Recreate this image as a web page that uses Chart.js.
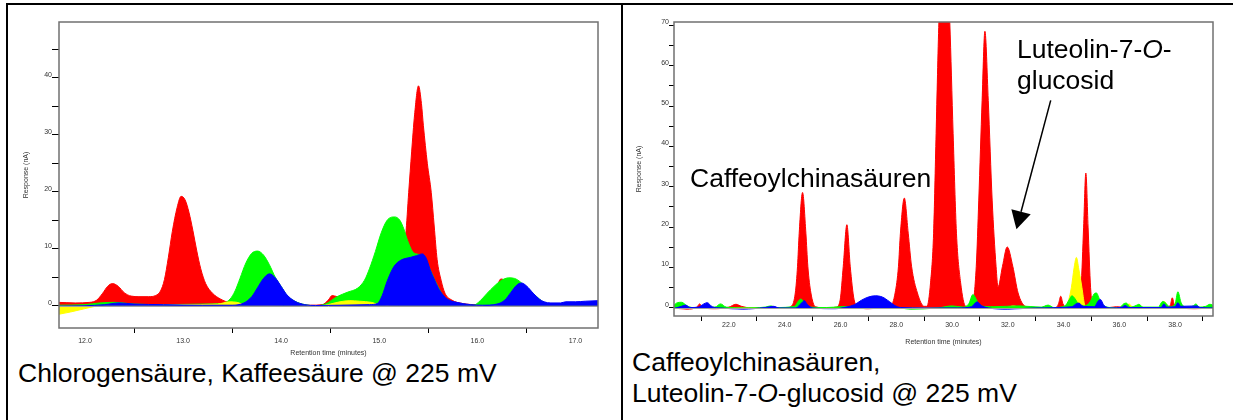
<!DOCTYPE html>
<html>
<head>
<meta charset="utf-8">
<script src="https://cdn.jsdelivr.net/npm/chart.js@4/dist/chart.umd.min.js"></script>
<style>
  body { margin: 0; background: #fff; }
  #page { position: relative; width: 1233px; height: 420px; overflow: hidden; font-family: "Liberation Sans", Arial, sans-serif; }
  .rule { position: absolute; background: #000; }
  canvas { position: absolute; }
  .txt { position: absolute; font-size: 26.5px; line-height: 30.6px; color: #000; white-space: nowrap; }
</style>
</head>
<body>
<div id="page">
  <div class="rule" style="left:6px;top:3px;width:1227px;height:2px"></div>
  <div class="rule" style="left:6px;top:3px;width:2px;height:417px"></div>
  <div class="rule" style="left:621px;top:3px;width:2px;height:417px"></div>

  <canvas id="leftChart" width="612" height="353" style="left:8px;top:5px"></canvas>
  <canvas id="rightChart" width="610" height="341" style="left:623px;top:5px"></canvas>

  <div class="txt" style="left:18px;top:358px">Chlorogensäure, Kaffeesäure @ 225 mV</div>
  <div class="txt" style="left:632px;top:347px">Caffeoylchinasäuren,<br>Luteolin-7-<i>O</i>-glucosid @ 225 mV</div>
  <div class="txt" style="left:690px;top:163px">Caffeoylchinasäuren</div>
  <div class="txt" style="left:1017px;top:34px;line-height:31px">Luteolin-7-<i>O</i>-<br>glucosid</div>
</div>

<script>
// ---- left chromatogram (11.7 - 17.2 min) ----
const leftRedT = [11.73, 11.9, 12.05, 12.12, 12.18, 12.23, 12.28, 12.34, 12.40, 12.47, 12.55, 12.65, 12.72, 12.77, 12.81, 12.85, 12.89, 12.94, 12.98, 13.02, 13.06, 13.10, 13.14, 13.18, 13.23, 13.30, 13.38, 13.48, 13.6, 13.9, 14.3, 14.42, 14.48, 14.52, 14.57, 14.65, 14.8, 14.95, 15.1, 15.17, 15.22, 15.27, 15.30, 15.33, 15.36, 15.40, 15.43, 15.45, 15.49, 15.53, 15.56, 15.59, 15.63, 15.67, 15.74, 15.85, 16.0, 16.12, 16.2, 16.24, 16.35, 16.45, 16.6, 17.23];
const leftRedY = [0.6, 0.5, 0.6, 1.0, 2.2, 3.4, 3.9, 3.4, 2.3, 1.7, 1.6, 1.6, 1.8, 2.6, 4.6, 8.5, 13.0, 17.3, 19.2, 18.6, 16.4, 13.2, 9.6, 6.5, 3.9, 2.2, 1.2, 0.5, 0.3, 0.2, 0.1, 0.2, 1.0, 1.8, 1.6, 1.4, 1.8, 2.2, 2.6, 3.5, 7.0, 12.5, 19.9, 27.0, 33.5, 38.6, 35.5, 31.6, 25.0, 19.9, 14.0, 8.1, 4.5, 2.2, 1.0, 0.4, 0.2, 1.5, 3.5, 4.7, 3.5, 1.5, 0.3, 0.3];

const leftGreenT = [11.73, 12.0, 12.15, 12.3, 12.5, 12.8, 13.2, 13.4, 13.48, 13.53, 13.58, 13.64, 13.70, 13.76, 13.82, 13.88, 13.94, 14.0, 14.06, 14.14, 14.24, 14.35, 14.45, 14.57, 14.68, 14.78, 14.85, 14.90, 14.96, 15.02, 15.08, 15.155, 15.21, 15.25, 15.29, 15.35, 15.42, 15.50, 15.58, 15.66, 15.74, 15.85, 15.96, 16.03, 16.10, 16.17, 16.24, 16.32, 16.38, 16.43, 16.48, 16.58, 16.68, 16.8, 17.23];
const leftGreenY = [0.1, 0.2, 0.5, 0.6, 0.3, 0.2, 0.3, 0.4, 1.2, 2.6, 4.8, 7.5, 9.2, 9.6, 8.9, 7.2, 5.0, 3.4, 1.8, 0.8, 0.2, 0.0, 0.3, 1.6, 2.4, 3.1, 4.5, 6.5, 9.5, 12.8, 15.0, 15.6, 15.0, 13.5, 11.4, 9.3, 8.9, 7.0, 4.0, 1.6, 0.7, 0.3, 0.1, 0.9, 2.2, 3.4, 4.4, 4.9, 4.8, 4.3, 3.5, 2.0, 0.6, 0.3, 0.2];

const leftBlueT = [11.73, 12.0, 12.2, 12.35, 12.5, 12.8, 13.2, 13.5, 13.62, 13.70, 13.76, 13.82, 13.88, 13.94, 14.0, 14.06, 14.14, 14.24, 14.35, 14.6, 14.9, 14.98, 15.03, 15.08, 15.15, 15.22, 15.32, 15.38, 15.44, 15.48, 15.52, 15.56, 15.60, 15.65, 15.70, 15.79, 15.93, 16.05, 16.2, 16.28, 16.34, 16.40, 16.45, 16.50, 16.57, 16.63, 16.68, 16.75, 16.85, 16.9, 17.0, 17.1, 17.23];
const leftBlueY = [-0.1, 0.0, 0.2, 0.5, 0.3, 0.2, 0.1, 0.1, 0.5, 1.6, 3.2, 4.8, 5.6, 4.9, 3.4, 1.9, 0.8, 0.2, 0.05, 0.1, 0.2, 0.4, 1.8, 4.3, 6.9, 8.0, 8.5, 8.8, 9.1, 8.3, 6.3, 4.7, 3.2, 1.9, 1.1, 0.6, 0.2, 0.1, 0.3, 1.0, 2.3, 3.6, 4.0, 3.5, 2.2, 1.2, 0.7, 0.5, 0.5, 0.7, 0.7, 0.8, 0.9];

const leftYellowT = [11.73, 11.85, 11.95, 12.05, 12.15, 12.4, 13.0, 13.35, 13.48, 13.55, 13.65, 14.4, 14.5, 14.6, 14.7, 14.8, 14.92, 15.0, 15.2, 17.23];
const leftYellowY = [-1.5, -1.1, -0.7, -0.3, 0.0, 0.1, 0.2, 0.3, 0.7, 0.6, 0.1, 0.0, 0.3, 0.7, 0.9, 0.8, 0.6, 0.2, 0.0, 0.0];

const leftXTicks = [12.0, 12.5, 13.0, 13.5, 14.0, 14.5, 15.0, 15.5, 16.0, 16.5, 17.0];
const leftYTicks = [0, 5, 10, 15, 20, 25, 30, 35, 40, 45];

// ---- right chromatogram (20 - 39.4 min) ----
const rightRedT = [20.0, 20.5, 20.85, 20.95, 21.05, 21.5, 22.0, 22.25, 22.45, 22.8, 23.5, 24.1, 24.25, 24.38, 24.46, 24.52, 24.64, 24.76, 24.83, 24.94, 25.1, 25.5, 25.85, 25.99, 26.10, 26.23, 26.35, 26.49, 26.65, 27.0, 27.5, 27.8, 27.96, 28.08, 28.15, 28.29, 28.43, 28.55, 28.76, 29.0, 29.10, 29.23, 29.34, 29.43, 29.53, 29.72, 29.92, 30.04, 30.16, 30.31, 30.49, 30.65, 30.72, 30.87, 30.96, 31.08, 31.18, 31.30, 31.44, 31.58, 31.65, 31.81, 31.98, 32.18, 32.37, 32.63, 33.0, 33.7, 33.82, 33.9, 33.98, 34.1, 34.55, 34.63, 34.72, 34.80, 34.88, 34.97, 35.05, 35.5, 35.9, 36.5, 37.4, 37.55, 37.65, 37.82, 37.9, 37.98, 38.2, 38.7, 39.4];
const rightRedY = [0.0, -0.3, 0.2, 1.0, 0.1, -0.2, 0.2, 0.9, 0.4, 0.0, 0.0, 0.1, 0.5, 3.7, 10.3, 18.5, 28.6, 18.5, 10.3, 3.7, 0.3, 0.0, 0.2, 2.0, 10.3, 20.6, 10.3, 2.0, 0.2, -0.2, 0.0, 0.4, 3.7, 10.3, 18.5, 27.2, 18.5, 10.3, 3.7, 0.4, 0.4, 6.2, 18.5, 43.2, 70.8, 100, 70.8, 43.2, 18.5, 6.2, 0.4, 0.3, 0.4, 10.3, 26.7, 51.4, 68.5, 51.4, 26.7, 10.3, 5.2, 10.3, 15.1, 10.3, 3.7, 0.4, 0.0, 0.0, 1.0, 2.9, 1.0, 0.2, 0.3, 5.0, 20.0, 33.4, 20.0, 5.0, 0.5, 0.0, 0.3, 0.0, 0.0, 0.8, 0.3, 0.5, 2.5, 0.6, 0.0, -0.2, 0.0];

const rightYellowT = [20.0, 31.9, 32.2, 32.5, 33.9, 34.1, 34.28, 34.38, 34.46, 34.55, 34.66, 34.75, 34.85, 36.2, 36.35, 36.5, 37.45, 37.6, 37.75, 37.85, 39.4];
const rightYellowY = [0.0, 0.0, 0.5, 0.0, 0.0, 0.5, 5.0, 10.0, 12.5, 9.5, 5.0, 1.0, 0.1, 0.0, 1.0, 0.0, 0.0, 1.6, 0.3, 0.0, 0.0];

const rightGreenT = [20.0, 20.15, 20.3, 20.5, 20.7, 21.5, 21.7, 21.9, 22.5, 23.3, 23.5, 23.7, 24.35, 24.5, 24.58, 24.7, 24.9, 25.5, 26.0, 26.8, 27.2, 28.0, 28.5, 29.5, 30.0, 30.4, 30.6, 30.75, 30.88, 31.0, 31.5, 32.4, 33.2, 33.45, 33.65, 34.05, 34.2, 34.3, 34.42, 34.55, 34.75, 34.95, 35.1, 35.18, 35.3, 35.5, 36.0, 36.15, 36.25, 36.4, 36.6, 36.7, 36.85, 37.4, 37.55, 37.65, 37.8, 38.0, 38.1, 38.22, 38.4, 38.65, 38.75, 38.85, 39.1, 39.25, 39.4];
const rightGreenY = [0.5, 1.3, 1.4, 0.5, 0.1, 0.2, 1.0, 0.2, 0.0, 0.2, 0.5, 0.1, 0.4, 1.8, 2.2, 1.4, 0.2, 0.1, 0.3, 0.5, 0.8, 0.2, -0.3, 0.0, 0.5, 0.2, 1.0, 3.3, 2.0, 0.5, 0.3, 0.5, 0.2, 0.7, 0.1, 0.5, 2.0, 3.0, 2.2, 0.8, 0.5, 1.5, 3.5, 3.7, 2.0, 0.3, 0.0, 1.0, 1.2, 0.2, 0.6, 0.9, 0.2, 0.2, 1.6, 1.3, 0.3, 1.0, 4.0, 1.2, 0.2, 0.5, 1.0, 0.2, 0.4, 0.9, 0.5];

const rightBlueT = [20.0, 20.3, 20.45, 20.6, 20.9, 21.1, 21.22, 21.4, 21.7, 22.5, 23.3, 23.6, 23.8, 24.4, 24.6, 24.7, 24.82, 25.0, 25.8, 26.2, 26.5, 26.75, 27.0, 27.25, 27.5, 27.75, 27.95, 28.15, 29.0, 30.2, 30.7, 30.9, 31.05, 31.3, 32.0, 33.0, 34.3, 34.45, 34.55, 34.7, 35.1, 35.25, 35.32, 35.45, 35.7, 36.1, 36.2, 36.35, 37.5, 37.6, 37.7, 38.0, 38.1, 38.2, 38.8, 38.9, 39.4];
const rightBlueY = [-0.2, 0.4, 0.7, 0.1, 0.2, 1.0, 1.3, 0.3, 0.0, -0.3, 0.1, 0.4, 0.0, 0.0, 1.2, 1.8, 0.8, 0.0, -0.2, 0.2, 0.8, 1.9, 2.7, 3.0, 2.7, 1.6, 0.6, 0.1, 0.0, 0.0, 0.3, 1.5, 0.6, 0.0, -0.3, 0.0, 0.3, 1.0, 1.2, 0.4, 0.3, 1.8, 2.1, 0.6, 0.0, 0.2, 0.6, 0.1, 0.1, 1.0, 0.2, 0.3, 1.3, 0.4, 0.5, 0.1, 0.0];

const rightXTicks = [21, 22, 23, 24, 25, 26, 27, 28, 29, 30, 31, 32, 33, 34, 35, 36, 37, 38, 39];
const rightYTicks = [0, 5, 10, 15, 20, 25, 30, 35, 40, 45, 50, 55, 60, 65, 70];

// arrow pointing at the luteolin peak (minutes, nA)
const arrowFrom = [33.54, 51.4];
const arrowTo = [32.31, 19.5];

const FONT = '"Liberation Sans", Arial, sans-serif';

const toPoints = (ts, ys) => ts.map((t, i) => ({ x: t, y: ys[i] }));

const trace = (label, color, ts, ys) => ({
    label,
    data: toPoints(ts, ys),
    borderColor: color,
    backgroundColor: color,
    borderWidth: 1,
    fill: "origin",
    pointRadius: 0,
    cubicInterpolationMode: "monotone",
});

// plot frame + zero line, like the detector software draws it
const framePlugin = {
    id: "frame",
    afterDatasetsDraw(chart) {
        const { ctx, chartArea: a, scales } = chart;
        const y0 = Math.round(scales.y.getPixelForValue(0)) + 0.5;
        ctx.save();
        ctx.strokeStyle = "#a0a0a0";
        ctx.lineWidth = 1;
        ctx.beginPath();
        ctx.moveTo(a.left, y0);
        ctx.lineTo(a.right, y0);
        ctx.stroke();
        ctx.strokeStyle = "#707070";
        ctx.lineWidth = 1.5;
        ctx.strokeRect(a.left, a.top, a.right - a.left, a.bottom - a.top);
        ctx.restore();
    },
};

const arrowPlugin = {
    id: "arrow",
    afterDraw(chart) {
        const { ctx, scales } = chart;
        const x1 = scales.x.getPixelForValue(arrowFrom[0]);
        const y1 = scales.y.getPixelForValue(arrowFrom[1]);
        const x2 = scales.x.getPixelForValue(arrowTo[0]);
        const y2 = scales.y.getPixelForValue(arrowTo[1]);
        const ang = Math.atan2(y2 - y1, x2 - x1);
        const headLen = 18, headW = 10;
        const bx = x2 - headLen * Math.cos(ang);
        const by = y2 - headLen * Math.sin(ang);
        ctx.save();
        ctx.strokeStyle = "#000";
        ctx.fillStyle = "#000";
        ctx.lineWidth = 1.5;
        ctx.beginPath();
        ctx.moveTo(x1, y1);
        ctx.lineTo(bx, by);
        ctx.stroke();
        ctx.beginPath();
        ctx.moveTo(x2, y2);
        ctx.lineTo(bx + headW * Math.sin(ang), by - headW * Math.cos(ang));
        ctx.lineTo(bx - headW * Math.sin(ang), by + headW * Math.cos(ang));
        ctx.closePath();
        ctx.fill();
        ctx.restore();
    },
};

const buildOptions = (cfg) => ({
    responsive: false,
    animation: false,
    events: [],
    layout: { padding: { left: 0, top: 17, right: cfg.padRight, bottom: 0 } },
    plugins: { legend: { display: false }, tooltip: { enabled: false } },
    scales: {
        x: {
            type: "linear",
            min: cfg.xMin,
            max: cfg.xMax,
            afterFit: (s) => { s.height = 30; },
            afterBuildTicks: (s) => { s.ticks = cfg.xTicks.map((v) => ({ value: v })); },
            border: { display: false },
            grid: {
                drawOnChartArea: false,
                tickLength: 5,
                // only the unlabelled (minor) positions get a tick mark
                color: (c) => (c.tick && cfg.xLabel(c.tick.value) === "" ? "#000" : "rgba(0,0,0,0)"),
            },
            ticks: {
                autoSkip: false,
                maxRotation: 0,
                padding: cfg.xTickPad,
                color: "#333",
                font: { family: FONT, size: 7 },
                callback: cfg.xLabel,
            },
            title: {
                display: true,
                text: "Retention time (minutes)",
                color: "#333",
                font: { family: FONT, size: 7 },
                padding: { top: 0, bottom: cfg.xTitlePad },
            },
        },
        y: {
            min: cfg.yMin,
            max: cfg.yMax,
            afterFit: (s) => { s.width = 51; },
            afterBuildTicks: (s) => { s.ticks = cfg.yTicks.map((v) => ({ value: v })); },
            border: { display: false },
            grid: { drawOnChartArea: false, color: "#000", tickLength: cfg.yTickLen },
            ticks: {
                autoSkip: false,
                padding: 0,
                labelOffset: -3,
                color: "#333",
                font: { family: FONT, size: 7 },
                callback: (v) => (v % 10 === 0 ? String(v) : ""),
            },
            title: {
                display: true,
                text: "Response (nA)",
                color: "#333",
                font: { family: FONT, size: 7 },
                padding: { top: cfg.yTitlePad, bottom: 0 },
            },
        },
    },
});

// first dataset is drawn on top
new Chart(document.getElementById("leftChart"), {
    type: "line",
    data: {
        datasets: [
            trace("blue", "#0000ff", leftBlueT, leftBlueY),
            trace("yellow", "#ffff00", leftYellowT, leftYellowY),
            trace("green", "#00ff00", leftGreenT, leftGreenY),
            trace("red", "#ff0000", leftRedT, leftRedY),
        ],
    },
    options: buildOptions({
        xMin: 11.735, xMax: 17.23, yMin: -3.9, yMax: 49.8,
        padRight: 22, xTickPad: 3.5, xTitlePad: 0.8, yTickLen: 7, yTitlePad: 13.5,
        xTicks: leftXTicks, yTicks: leftYTicks,
        xLabel: (v) => (Number.isInteger(v) ? v.toFixed(1) : ""),
    }),
    plugins: [framePlugin],
});

new Chart(document.getElementById("rightChart"), {
    type: "line",
    data: {
        datasets: [
            trace("blue", "#0000ff", rightBlueT, rightBlueY),
            trace("green", "#00ff00", rightGreenT, rightGreenY),
            trace("yellow", "#ffff00", rightYellowT, rightYellowY),
            trace("red", "#ff0000", rightRedT, rightRedY),
        ],
    },
    options: buildOptions({
        xMin: 20.03, xMax: 39.36, yMin: -2, yMax: 70.8,
        padRight: 20, xTickPad: 0, xTitlePad: 0.1, yTickLen: 5, yTitlePad: 11.8,
        xTicks: rightXTicks, yTicks: rightYTicks,
        xLabel: (v) => (v % 2 === 0 ? v.toFixed(1) : ""),
    }),
    plugins: [framePlugin, arrowPlugin],
});
</script>
</body>
</html>
